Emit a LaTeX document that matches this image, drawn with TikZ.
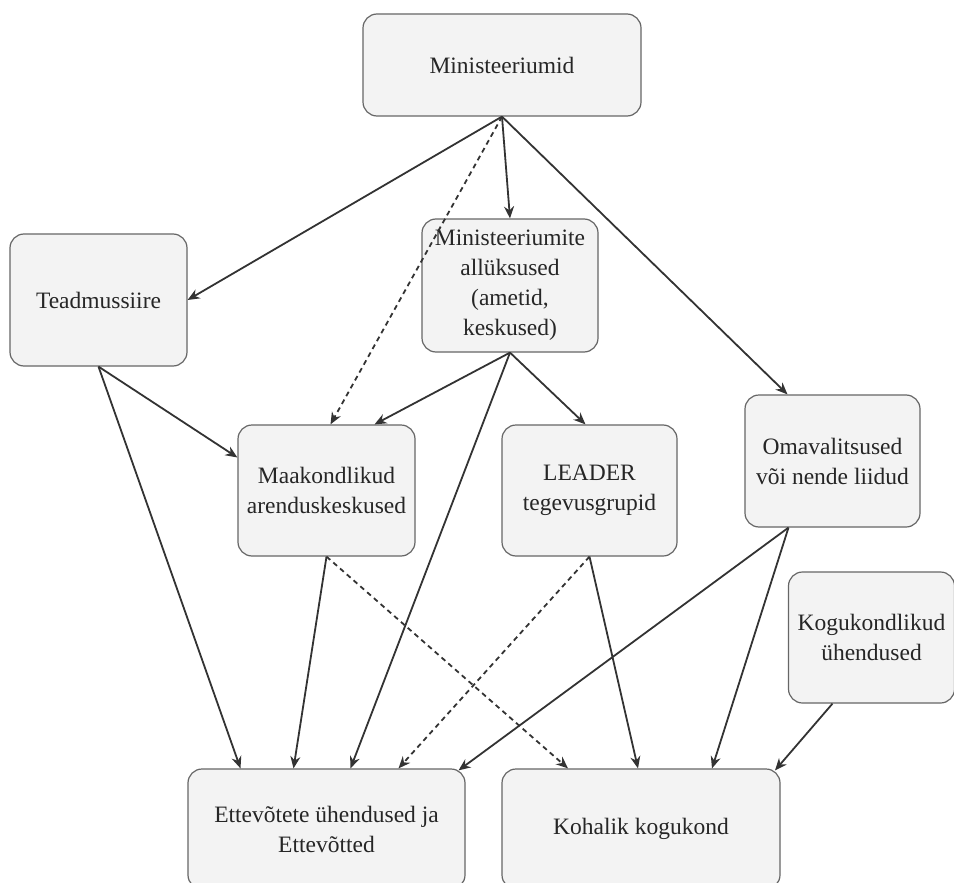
\documentclass[tikz,border=0pt]{standalone}
\usepackage{fontspec}
\setmainfont{Liberation Serif}
\usetikzlibrary{arrows.meta}
\definecolor{boxfill}{HTML}{F3F3F3}
\definecolor{boxline}{HTML}{666666}
\definecolor{lineclr}{HTML}{333333}
\begin{document}
\begin{tikzpicture}[x=1pt,y=-1pt,
  box/.style={draw=boxline,fill=boxfill,line width=1.2pt,rounded corners=14pt,
    align=center,inner sep=0pt,text=black!85,
    font=\fontsize{23.5}{30}\selectfont},
  arr/.style={draw=lineclr,line width=1.8pt,-{Stealth[length=12pt,width=10pt]}},
  dsh/.style={arr,dash pattern=on 5pt off 4pt}]
\useasboundingbox (0,0) rectangle (954,883);
% boxes
\node[box,minimum width=278pt,minimum height=102pt] (min) at (502,65) {Ministeeriumid};
\node[box,minimum width=177pt,minimum height=132pt] (tea) at (98.5,300) {Teadmussiire};
\node[box,minimum width=176pt,minimum height=133pt] (all) at (510,285.5)
  {Ministeeriumite\\allüksused\\(ametid,\\keskused)};
\node[box,minimum width=175pt,minimum height=132pt] (oma) at (832.5,461)
  {Omavalitsused\\või nende liidud};
\node[box,minimum width=177pt,minimum height=131pt] (mkd) at (326.5,490.5)
  {Maakondlikud\\arenduskeskused};
\node[box,minimum width=175pt,minimum height=131pt] (lea) at (589.5,490.5)
  {LEADER\\tegevusgrupid};
\node[box,minimum width=166pt,minimum height=131pt] (kog) at (871.5,637.5)
  {Kogukondlikud\\ühendused};
\node[box,minimum width=277pt,minimum height=120pt] (ett) at (326.5,829)
  {Ettevõtete ühendused ja\\Ettevõtted};
\node[box,minimum width=278pt,minimum height=120pt] (kok) at (641,829)
  {Kohalik kogukond};
% connectors
\draw[arr] (min.south) -- (tea.east);
\draw[arr] (min.south) -- (all.north);
\draw[dsh] (min.south) -- ([xshift=4pt]mkd.north);
\draw[arr] (min.south) -- ([xshift=-45pt]oma.north);
\draw[arr] (tea.south) -- ([xshift=-86pt]ett.north);
\draw[arr] (tea.south) -- ([yshift=33pt]mkd.west);
\draw[arr] (all.south) -- ([xshift=48pt]mkd.north);
\draw[arr] (all.south) -- ([xshift=-4pt]lea.north);
\draw[arr] (all.south) -- ([xshift=24pt]ett.north);
\draw[arr] (mkd.south) -- ([xshift=-33pt]ett.north);
\draw[dsh] (mkd.south) -- ([xshift=-73pt]kok.north);
\draw[dsh] (lea.south) -- ([xshift=72pt]ett.north);
\draw[arr] (lea.south) -- ([xshift=-3pt]kok.north);
\draw[arr] ([xshift=-44pt]oma.south) -- ([xshift=132pt,yshift=-2pt]ett.north);
\draw[arr] ([xshift=-44pt]oma.south) -- ([xshift=71pt]kok.north);
\draw[arr] ([xshift=-39pt]kog.south) -- ([xshift=134pt,yshift=-2pt]kok.north);
\end{tikzpicture}
\end{document}
